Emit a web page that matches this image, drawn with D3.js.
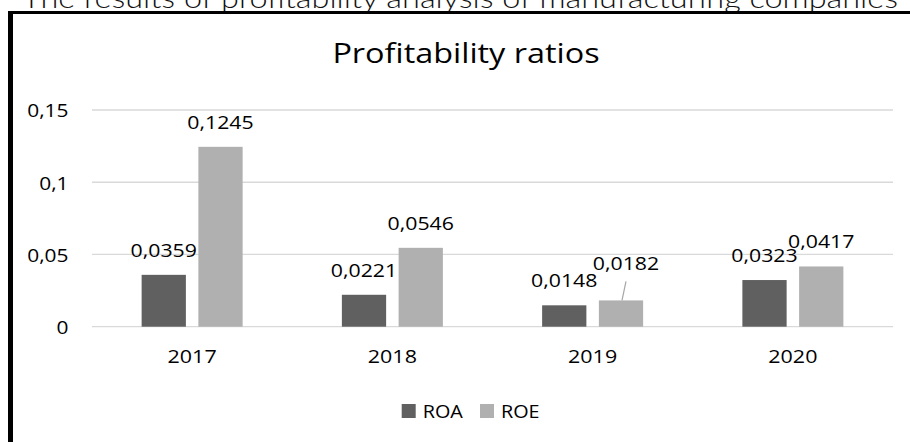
<!DOCTYPE html>
<html>
<head>
<meta charset="utf-8">
<script src="https://cdn.jsdelivr.net/npm/d3@7"></script>
<style>
  html, body { margin: 0; padding: 0; background: #fff; }
  svg { display: block; }
  text { font-family: "Open Sans", sans-serif; fill: #000; }
</style>
</head>
<body>
<svg id="chart" width="910" height="442"></svg>
<script>
const categories = ["2017", "2018", "2019", "2020"];
const seriesNames = ["ROA", "ROE"];
const roa = [0.0359, 0.0221, 0.0148, 0.0323];
const roe = [0.1245, 0.0546, 0.0182, 0.0417];
const yTicks = [0, 0.05, 0.1, 0.15];
const colors = ["#606060", "#b0b0b0"];
const chartTitle = "Profitability ratios";
const pageHeading = "The results of profitability analysis of manufacturing companies";

const svg = d3.select("#chart");
const locale = d3.formatLocale({decimal: ",", thousands: " ", grouping: [3], currency: ["", ""]});
const fmtLabel = locale.format(".4f");
const fmtTick = locale.format(".2~f");

function addText(parent, x, y, str, size, sx, anchor) {
  return parent.append("text")
    .attr("transform", `translate(${x},${y}) scale(${sx},1)`)
    .attr("text-anchor", anchor || "start")
    .style("font-size", size + "px")
    .text(str);
}

// clipped page heading at top
svg.append("text")
  .attr("x", 22).attr("y", 7.5)
  .attr("textLength", 876).attr("lengthAdjust", "spacingAndGlyphs")
  .style("font-family", "Lato, 'DejaVu Sans', sans-serif")
  .style("font-weight", "300")
  .style("font-size", "27px")
  .style("fill", "#111")
  .text(pageHeading);

// frame lines
svg.append("rect").attr("x", 8).attr("y", 11).attr("width", 902).attr("height", 3).attr("fill", "#000");
svg.append("rect").attr("x", 8).attr("y", 11).attr("width", 5).attr("height", 431).attr("fill", "#000");

const x0 = d3.scaleBand().domain(categories).range([92, 893]).paddingInner(0).paddingOuter(0);
const groupW = 101;
const x1 = d3.scaleBand().domain(seriesNames).range([0, groupW]).paddingInner(0.22).paddingOuter(0);
const y = d3.scaleLinear().domain([0, 0.15]).range([326.7, 110]);

// gridlines
svg.append("g").selectAll("line").data(yTicks).join("line")
  .attr("x1", 92).attr("x2", 893)
  .attr("y1", d => y(d)).attr("y2", d => y(d))
  .attr("stroke", "#d9d9d9").attr("stroke-width", 1.3);

// y axis labels
const yAxis = d3.axisLeft(y).tickValues(yTicks).tickFormat(fmtTick).tickSize(0).tickPadding(0);
const ga = svg.append("g").attr("transform", "translate(68.5,0)").call(yAxis);
ga.select(".domain").remove();
ga.selectAll("text").style("font-family", "'Open Sans', sans-serif").style("font-size", "19px")
  .attr("fill", "#000").attr("dy", "0.36em").attr("transform", "scale(1.1,1)");

// x axis labels
const xAxis = d3.axisBottom(x0).tickSize(0).tickPadding(0);
const gx = svg.append("g").attr("transform", "translate(0,349)").call(xAxis);
gx.select(".domain").remove();
gx.selectAll("text").style("font-family", "'Open Sans', sans-serif").style("font-size", "18.5px")
  .attr("fill", "#000").attr("dy", "0.76em").attr("transform", "scale(1.16,1)");

// bars
const data = categories.map((c, i) => ({cat: c, vals: [roa[i], roe[i]]}));
const groups = svg.append("g").selectAll("g").data(data).join("g")
  .attr("transform", d => `translate(${x0(d.cat) + x0.bandwidth() / 2 - groupW / 2},0)`);
groups.selectAll("rect").data(d => d.vals.map((v, k) => ({k, v, cat: d.cat}))).join("rect")
  .attr("x", d => x1(seriesNames[d.k]))
  .attr("width", x1.bandwidth())
  .attr("y", d => y(d.v))
  .attr("height", d => y(0) - y(d.v))
  .attr("fill", d => colors[d.k]);

// data labels
groups.each(function (d) {
  const g = d3.select(this);
  d.vals.forEach((v, k) => {
    const cx = x1(seriesNames[k]) + x1.bandwidth() / 2;
    let lx = cx, ly = y(v) - 18;
    const moved = d.cat === "2019" && k === 1;
    if (moved) {
      lx = cx + 5; ly = y(v) - 30;
      g.append("line")
        .attr("x1", cx + 5).attr("y1", y(v) - 19)
        .attr("x2", cx + 1).attr("y2", y(v))
        .attr("stroke", "#a6a6a6").attr("stroke-width", 1.2);
    }
    addText(g, lx, ly, fmtLabel(v), 19, 1.12, "middle");
  });
});

// chart title
addText(svg, 466, 63.3, chartTitle, 27, 1.2, "middle");

// legend
const legend = svg.append("g");
const legendX = [401.7, 480];
seriesNames.forEach((s, k) => {
  legend.append("rect").attr("x", legendX[k]).attr("y", 404).attr("width", 14).attr("height", 14).attr("fill", colors[k]);
  addText(legend, legendX[k] + 21, 417.7, s, 18, 1.1, "start");
});
</script>
</body>
</html>
